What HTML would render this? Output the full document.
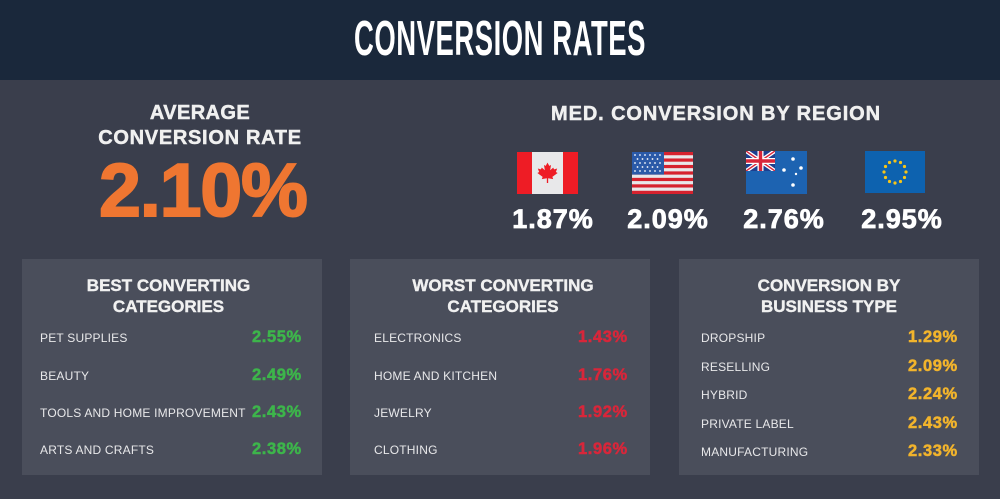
<!DOCTYPE html>
<html><head><meta charset="utf-8"><style>
*{margin:0;padding:0;box-sizing:border-box}
html,body{width:1000px;height:499px;overflow:hidden;background:#3a3e4c;font-family:"Liberation Sans",sans-serif}
.abs{position:absolute;line-height:1;white-space:nowrap}
.hdr{position:absolute;left:0;top:0;width:1000px;height:80px;background:#1a283b}
.title{position:absolute;left:0;top:15px;width:1000px;text-align:center;color:#fff;font-weight:bold;font-size:49px;line-height:1;letter-spacing:1px;transform:scaleX(0.56);transform-origin:500px 0}
.ctr{position:absolute;line-height:1;white-space:nowrap;text-align:center;font-weight:bold}
.panel{position:absolute;top:259px;width:300px;height:216px;background:#4a4e5b}
.pt{color:#f1f1f1;font-size:17px;-webkit-text-stroke:0.4px #f1f1f1}
.lbl{position:absolute;line-height:1;white-space:nowrap;color:#e8e8ea;font-size:12px;letter-spacing:0.2px}
.val{position:absolute;line-height:1;white-space:nowrap;font-weight:bold;font-size:16.5px;letter-spacing:0.6px}
.g{color:#3db54b;-webkit-text-stroke:0.5px #3db54b}.r{color:#d8263a;-webkit-text-stroke:0.5px #d8263a}.y{color:#f2b42c;-webkit-text-stroke:0.5px #f2b42c}
.rp{color:#fff;font-size:27px;letter-spacing:1px;width:120px;-webkit-text-stroke:0.8px #fff}
.hd{-webkit-text-stroke:0.5px #f0f0f0}
</style></head><body>
<div class="hdr"></div>
<div class="title">CONVERSION RATES</div>

<div class="ctr hd" style="left:100px;width:200px;top:103px;font-size:20px;color:#f0f0f0;letter-spacing:0.4px">AVERAGE</div>
<div class="ctr hd" style="left:60px;width:280px;top:128px;font-size:20px;color:#f0f0f0;letter-spacing:0.7px">CONVERSION RATE</div>
<div class="ctr" style="left:80px;width:246px;top:153px;font-size:75px;color:#ef7631;letter-spacing:-1px;-webkit-text-stroke:2px #ef7631">2.10%</div>

<div class="ctr hd" style="left:516px;width:400px;top:104px;font-size:20px;color:#f0f0f0;letter-spacing:0.9px">MED. CONVERSION BY REGION</div>

<!-- Canada -->
<svg style="position:absolute;left:517px;top:152px" width="61" height="42" viewBox="0 0 61 42">
<rect width="61" height="42" fill="#ee1c25"/>
<rect x="15" width="31" height="42" fill="#e8e8ea"/>
<g transform="translate(19.5,9.5) scale(0.22)" fill="#ee1c25">
<polygon points="50,5 58,20 66,16 62,40 76,28 80,36 94,32 88,48 96,52 72,70 76,80 53,76 53,98 47,98 47,76 24,80 28,70 4,52 12,48 6,32 20,36 24,28 38,40 34,16 42,20"/>
</g>
</svg>

<!-- USA -->
<svg style="position:absolute;left:632px;top:152px" width="61" height="42" viewBox="0 0 61 42">
<rect width="61" height="42" fill="#e8e8ea"/>
<g fill="#d6222e">
<rect y="0" width="61" height="3.23"/><rect y="6.46" width="61" height="3.23"/><rect y="12.92" width="61" height="3.23"/><rect y="19.38" width="61" height="3.23"/><rect y="25.85" width="61" height="3.23"/><rect y="32.31" width="61" height="3.23"/><rect y="38.77" width="61" height="3.23"/>
</g>
<rect width="32" height="22.6" fill="#2b5aa8"/>
<g fill="#fff">
<circle cx="3" cy="3" r="0.9"/><circle cx="8" cy="3" r="0.9"/><circle cx="13" cy="3" r="0.9"/><circle cx="18" cy="3" r="0.9"/><circle cx="23" cy="3" r="0.9"/><circle cx="28" cy="3" r="0.9"/>
<circle cx="5.5" cy="7" r="0.9"/><circle cx="10.5" cy="7" r="0.9"/><circle cx="15.5" cy="7" r="0.9"/><circle cx="20.5" cy="7" r="0.9"/><circle cx="25.5" cy="7" r="0.9"/>
<circle cx="3" cy="11" r="0.9"/><circle cx="8" cy="11" r="0.9"/><circle cx="13" cy="11" r="0.9"/><circle cx="18" cy="11" r="0.9"/><circle cx="23" cy="11" r="0.9"/><circle cx="28" cy="11" r="0.9"/>
<circle cx="5.5" cy="15" r="0.9"/><circle cx="10.5" cy="15" r="0.9"/><circle cx="15.5" cy="15" r="0.9"/><circle cx="20.5" cy="15" r="0.9"/><circle cx="25.5" cy="15" r="0.9"/>
<circle cx="3" cy="19" r="0.9"/><circle cx="8" cy="19" r="0.9"/><circle cx="13" cy="19" r="0.9"/><circle cx="18" cy="19" r="0.9"/><circle cx="23" cy="19" r="0.9"/><circle cx="28" cy="19" r="0.9"/>
</g>
</svg>

<!-- Australia -->
<svg style="position:absolute;left:746px;top:151px" width="61" height="43" viewBox="0 0 61 43">
<rect width="61" height="43" fill="#1d63b1"/>
<svg x="0" y="0" width="29" height="20" viewBox="0 0 29 20">
<rect width="29" height="20" fill="#1d3f8f"/>
<path d="M0,0 L29,20 M29,0 L0,20" stroke="#fff" stroke-width="4"/>
<path d="M0,0 L29,20 M29,0 L0,20" stroke="#d8263a" stroke-width="1.4"/>
<path d="M14.5,0 V20 M0,10 H29" stroke="#fff" stroke-width="6"/>
<path d="M14.5,0 V20 M0,10 H29" stroke="#d8263a" stroke-width="3.4"/>
</svg>
<g fill="#fff">
<circle cx="47" cy="8" r="1.8"/><circle cx="38" cy="19" r="1.8"/><circle cx="55" cy="17" r="1.8"/><circle cx="50" cy="23" r="1.2"/><circle cx="47" cy="34" r="1.8"/>
</g>
</svg>

<!-- EU -->
<svg style="position:absolute;left:865px;top:151px" width="60" height="42" viewBox="0 0 60 42">
<rect width="60" height="42" fill="#0d62af"/>
<g fill="#f6c519">
<circle cx="30" cy="10" r="1.6"/><circle cx="35.5" cy="11.5" r="1.6"/><circle cx="39.5" cy="15.5" r="1.6"/><circle cx="41" cy="21" r="1.6"/><circle cx="39.5" cy="26.5" r="1.6"/><circle cx="35.5" cy="30.5" r="1.6"/><circle cx="30" cy="32" r="1.6"/><circle cx="24.5" cy="30.5" r="1.6"/><circle cx="20.5" cy="26.5" r="1.6"/><circle cx="19" cy="21" r="1.6"/><circle cx="20.5" cy="15.5" r="1.6"/><circle cx="24.5" cy="11.5" r="1.6"/>
</g>
</svg>

<div class="ctr rp" style="left:493px;top:206px">1.87%</div>
<div class="ctr rp" style="left:608px;top:206px">2.09%</div>
<div class="ctr rp" style="left:724px;top:206px">2.76%</div>
<div class="ctr rp" style="left:842px;top:206px">2.95%</div>

<!-- Panels -->
<div class="panel" style="left:22px"></div>
<div class="panel" style="left:350px"></div>
<div class="panel" style="left:679px"></div>

<div class="ctr pt" style="left:22px;width:293px;top:277px">BEST CONVERTING</div>
<div class="ctr pt" style="left:22px;width:293px;top:298px">CATEGORIES</div>
<div class="ctr pt" style="left:350px;width:306px;top:277px">WORST CONVERTING</div>
<div class="ctr pt" style="left:350px;width:306px;top:298px">CATEGORIES</div>
<div class="ctr pt" style="left:679px;width:300px;top:277px">CONVERSION BY</div>
<div class="ctr pt" style="left:679px;width:300px;top:298px">BUSINESS TYPE</div>

<div class="lbl" style="left:40px;top:332px">PET SUPPLIES</div>
<div class="lbl" style="left:40px;top:369.5px">BEAUTY</div>
<div class="lbl" style="left:40px;top:407px">TOOLS AND HOME IMPROVEMENT</div>
<div class="lbl" style="left:40px;top:444px">ARTS AND CRAFTS</div>
<div class="val g" style="left:252px;top:329px">2.55%</div>
<div class="val g" style="left:252px;top:366.5px">2.49%</div>
<div class="val g" style="left:252px;top:404px">2.43%</div>
<div class="val g" style="left:252px;top:441px">2.38%</div>

<div class="lbl" style="left:374px;top:332px">ELECTRONICS</div>
<div class="lbl" style="left:374px;top:369.5px">HOME AND KITCHEN</div>
<div class="lbl" style="left:374px;top:407px">JEWELRY</div>
<div class="lbl" style="left:374px;top:444px">CLOTHING</div>
<div class="val r" style="left:578px;top:329px">1.43%</div>
<div class="val r" style="left:578px;top:366.5px">1.76%</div>
<div class="val r" style="left:578px;top:404px">1.92%</div>
<div class="val r" style="left:578px;top:441px">1.96%</div>

<div class="lbl" style="left:701px;top:332px">DROPSHIP</div>
<div class="lbl" style="left:701px;top:360.5px">RESELLING</div>
<div class="lbl" style="left:701px;top:389px">HYBRID</div>
<div class="lbl" style="left:701px;top:417.5px">PRIVATE LABEL</div>
<div class="lbl" style="left:701px;top:446px">MANUFACTURING</div>
<div class="val y" style="left:908px;top:329px">1.29%</div>
<div class="val y" style="left:908px;top:357.5px">2.09%</div>
<div class="val y" style="left:908px;top:386px">2.24%</div>
<div class="val y" style="left:908px;top:414.5px">2.43%</div>
<div class="val y" style="left:908px;top:443px">2.33%</div>
</body></html>
